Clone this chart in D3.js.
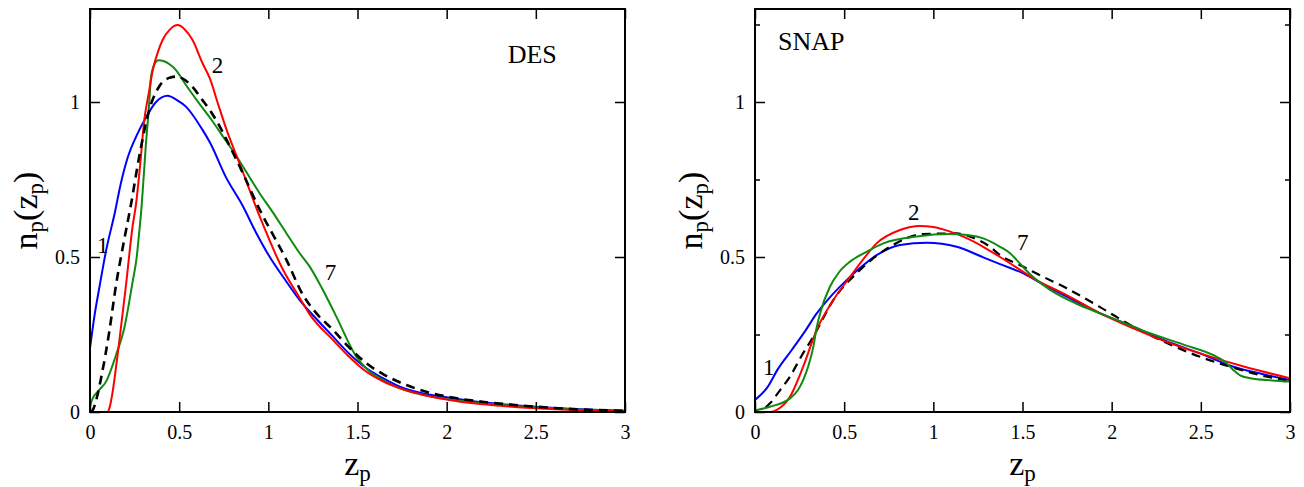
<!DOCTYPE html>
<html>
<head>
<meta charset="utf-8">
<script src="https://cdn.jsdelivr.net/npm/d3@7"></script>
<style>
  body { margin: 0; background: #fff; }
  svg { display: block; }
  text { font-family: "Liberation Serif", "Times New Roman", serif; fill: #000; }
</style>
</head>
<body>
<svg id="chart" width="1304" height="487"></svg>
<script>
// ---- data ----
var zTicks = [0, 0.5, 1, 1.5, 2, 2.5, 3];
var nTicks = [0, 0.5, 1];
var nMinorSnap = [0.25, 0.75, 1.25];

// DES panel
var desBlue = [[0,0.205],[0.025,0.31],[0.052,0.40],[0.09,0.52],[0.14,0.645],[0.17,0.73],[0.211,0.82],[0.26,0.89],[0.314,0.95],[0.37,1.0],[0.435,1.02],[0.49,1.005],[0.538,0.985],[0.631,0.91],[0.672,0.87],[0.76,0.76],[0.859,0.662],[0.93,0.58],[1.008,0.50],[1.09,0.43],[1.176,0.361],[1.27,0.30],[1.363,0.243],[1.45,0.19],[1.55,0.141],[1.64,0.11],[1.737,0.082],[1.85,0.062],[1.98,0.049],[2.15,0.035],[2.30,0.026],[2.5,0.017],[2.75,0.009],[3.0,0.004]];
var desRed = [[0,0],[0.099,0],[0.11,0.015],[0.127,0.065],[0.145,0.14],[0.164,0.227],[0.202,0.41],[0.239,0.60],[0.258,0.67],[0.28,0.79],[0.304,0.94],[0.33,1.03],[0.351,1.10],[0.38,1.16],[0.407,1.20],[0.45,1.235],[0.491,1.248],[0.53,1.235],[0.575,1.20],[0.631,1.125],[0.672,1.076],[0.72,0.99],[0.766,0.91],[0.84,0.80],[0.952,0.63],[1.083,0.458],[1.176,0.368],[1.232,0.315],[1.363,0.232],[1.45,0.18],[1.55,0.13],[1.64,0.1],[1.737,0.077],[1.87,0.055],[2.017,0.039],[2.15,0.028],[2.30,0.02],[2.5,0.012],[2.75,0.006],[3.0,0.003]];
var desGreen = [[0,0.02],[0.015,0.044],[0.05,0.07],[0.09,0.098],[0.146,0.184],[0.192,0.27],[0.239,0.42],[0.262,0.50],[0.276,0.58],[0.286,0.64],[0.30,0.75],[0.314,0.868],[0.33,0.98],[0.342,1.08],[0.36,1.12],[0.385,1.135],[0.407,1.133],[0.45,1.12],[0.482,1.103],[0.538,1.055],[0.613,0.995],[0.672,0.95],[0.75,0.885],[0.822,0.824],[0.952,0.705],[1.03,0.64],[1.102,0.576],[1.176,0.512],[1.232,0.469],[1.30,0.40],[1.345,0.35],[1.382,0.307],[1.494,0.178],[1.56,0.135],[1.643,0.103],[1.73,0.078],[1.83,0.06],[1.97,0.044],[2.11,0.033],[2.30,0.023],[2.5,0.015],[2.75,0.007],[3.0,0.003]];
var desBlack = [[0,0],[0.015,0.006],[0.04,0.05],[0.062,0.109],[0.108,0.259],[0.146,0.41],[0.19,0.55],[0.23,0.67],[0.276,0.824],[0.332,0.974],[0.388,1.05],[0.44,1.077],[0.482,1.082],[0.556,1.06],[0.631,1.006],[0.672,0.974],[0.822,0.813],[0.952,0.652],[1.102,0.49],[1.195,0.377],[1.27,0.318],[1.363,0.265],[1.45,0.21],[1.55,0.157],[1.65,0.12],[1.774,0.087],[1.9,0.063],[2.05,0.045],[2.2,0.033],[2.4,0.022],[2.6,0.013],[2.8,0.007],[3.0,0.004]];

// SNAP panel
var snapBlue = [[0,0.039],[0.065,0.076],[0.13,0.14],[0.206,0.2],[0.28,0.26],[0.346,0.318],[0.42,0.37],[0.495,0.415],[0.59,0.465],[0.682,0.506],[0.813,0.539],[0.963,0.546],[1.131,0.533],[1.28,0.499],[1.374,0.477],[1.505,0.447],[1.62,0.41],[1.748,0.372],[1.93,0.32],[2.122,0.275],[2.3,0.23],[2.496,0.189],[2.683,0.146],[2.85,0.122],[3.0,0.103]];
var snapRed = [[0,0],[0.09,0],[0.12,0.006],[0.196,0.049],[0.27,0.146],[0.346,0.265],[0.439,0.361],[0.533,0.436],[0.61,0.495],[0.682,0.544],[0.813,0.587],[0.925,0.60],[1.0,0.597],[1.094,0.582],[1.19,0.56],[1.28,0.533],[1.374,0.50],[1.47,0.465],[1.561,0.431],[1.748,0.377],[1.93,0.32],[2.122,0.27],[2.3,0.228],[2.496,0.189],[2.75,0.145],[3.0,0.109]];
var snapGreen = [[0,0.005],[0.084,0.017],[0.196,0.044],[0.24,0.07],[0.27,0.103],[0.3,0.15],[0.327,0.21],[0.345,0.27],[0.365,0.318],[0.42,0.404],[0.47,0.45],[0.533,0.485],[0.62,0.515],[0.72,0.544],[0.907,0.566],[1.094,0.574],[1.2,0.57],[1.28,0.56],[1.374,0.533],[1.43,0.512],[1.468,0.49],[1.55,0.44],[1.655,0.394],[1.8,0.35],[1.935,0.318],[2.08,0.285],[2.215,0.254],[2.4,0.218],[2.589,0.178],[2.64,0.16],[2.683,0.135],[2.72,0.118],[2.777,0.109],[2.9,0.102],[3.0,0.098]];
var snapBlack = [[0.06,0.015],[0.084,0.028],[0.14,0.07],[0.196,0.114],[0.26,0.18],[0.327,0.243],[0.439,0.361],[0.589,0.458],[0.757,0.533],[0.944,0.574],[1.131,0.576],[1.25,0.555],[1.318,0.533],[1.374,0.506],[1.5,0.47],[1.62,0.435],[1.748,0.399],[1.93,0.34],[2.122,0.275],[2.3,0.225],[2.496,0.178],[2.7,0.14],[2.87,0.114],[3.0,0.10]];

// curve labels [z, n, text]
var desLabels = [[0.039,0.513,"1"],[0.683,1.094,"2"],[1.317,0.426,"7"]];
var snapLabels = [[0.045,0.119,"1"],[0.858,0.619,"2"],[1.469,0.523,"7"]];

var svg = d3.select('#chart');
var top_ = 9, bottom = 412;

function drawPanel(left, right, name, namePos, series, labels, minor, dashW){
  var x = d3.scaleLinear().domain([0,3]).range([left,right]);
  var y = d3.scaleLinear().domain([0,1.3]).range([bottom,top_]);
  var g = svg.append('g');
  var id = 'clip' + name;
  g.append('clipPath').attr('id', id).append('rect')
    .attr('x', left).attr('y', top_).attr('width', right-left).attr('height', bottom-top_);

  var line = d3.line().x(function(d){return x(d[0]);}).y(function(d){return y(d[1]);})
    .curve(d3.curveMonotoneX);

  var lg = g.append('g').attr('clip-path', 'url(#' + id + ')');
  series.forEach(function(s){
    lg.append('path').datum(s.data)
      .attr('d', line)
      .attr('fill', 'none')
      .attr('stroke', s.color)
      .attr('stroke-width', s.dash ? dashW : 2)
      .attr('stroke-dasharray', s.dash ? '9,6' : null)
      .attr('stroke-linejoin', 'round');
  });

  // axes, ticks pointing inward
  g.append('g').attr('transform', 'translate(0,' + bottom + ')')
    .call(d3.axisBottom(x).tickValues(zTicks).tickSize(-10).tickPadding(13).tickFormat(function(d){return String(d);}));
  g.append('g').attr('transform', 'translate(' + left + ',0)')
    .call(d3.axisLeft(y).tickValues(nTicks).tickSize(-10).tickPadding(10).tickFormat(function(d){return String(d);}));
  g.append('g').attr('transform', 'translate(0,' + top_ + ')')
    .call(d3.axisTop(x).tickValues(zTicks).tickSize(-10).tickFormat(''));
  g.append('g').attr('transform', 'translate(' + right + ',0)')
    .call(d3.axisRight(y).tickValues(nTicks).tickSize(-10).tickFormat(''));
  if(minor){
    g.append('g').attr('transform', 'translate(' + left + ',0)')
      .call(d3.axisLeft(y).tickValues(nMinorSnap).tickSize(-5).tickFormat(''));
    g.append('g').attr('transform', 'translate(' + right + ',0)')
      .call(d3.axisRight(y).tickValues(nMinorSnap).tickSize(-5).tickFormat(''));
  }
  g.selectAll('.domain').remove();
  g.selectAll('.tick line').attr('stroke', '#000').attr('stroke-width', 1.5);
  g.selectAll('.tick text').style('font-family', '"Liberation Serif", serif').style('font-size', '20px').attr('fill', '#000');

  g.append('rect').attr('x', left).attr('y', top_).attr('width', right-left).attr('height', bottom-top_)
    .attr('fill', 'none').attr('stroke', '#000').attr('stroke-width', 2);

  // curve numbers and survey name
  g.selectAll('text.clab').data(labels).enter().append('text')
    .attr('class', 'clab')
    .attr('x', function(d){return x(d[0]);})
    .attr('y', function(d){return y(d[1]);})
    .style('font-size', '23px')
    .text(function(d){return d[2];});
  g.append('text').attr('x', x(namePos[0])).attr('y', y(namePos[1]))
    .style('font-size', '26px').text(name);

  // axis titles
  var xt = g.append('text').attr('x', (left+right)/2).attr('y', 475)
    .attr('text-anchor', 'middle').style('font-size', '34px');
  xt.append('tspan').text('z');
  xt.append('tspan').attr('dy', 6).style('font-size', '23px').text('p');

  var yt = g.append('text').attr('transform', 'translate(' + (left-53) + ',' + ((top_+bottom)/2) + ') rotate(-90)')
    .attr('text-anchor', 'middle').style('font-size', '34px');
  yt.append('tspan').text('n');
  yt.append('tspan').attr('dy', 6).style('font-size', '23px').text('p');
  yt.append('tspan').attr('dy', -6).text('(z');
  yt.append('tspan').attr('dy', 6).style('font-size', '23px').text('p');
  yt.append('tspan').attr('dy', -6).text(')');
}

var cRed = '#ff0000', cBlue = '#0000ff', cGreen = '#0f8a0f';

drawPanel(90, 625, 'DES', [2.342, 1.126], [
  {data: desBlue, color: cBlue},
  {data: desGreen, color: cGreen},
  {data: desRed, color: cRed},
  {data: desBlack, color: '#000', dash: true}
], desLabels, false, 2.6);

drawPanel(755, 1290, 'SNAP', [0.129, 1.168], [
  {data: snapBlue, color: cBlue},
  {data: snapBlack, color: '#000', dash: true},
  {data: snapRed, color: cRed},
  {data: snapGreen, color: cGreen}
], snapLabels, true, 2.2);
</script>
</body>
</html>
